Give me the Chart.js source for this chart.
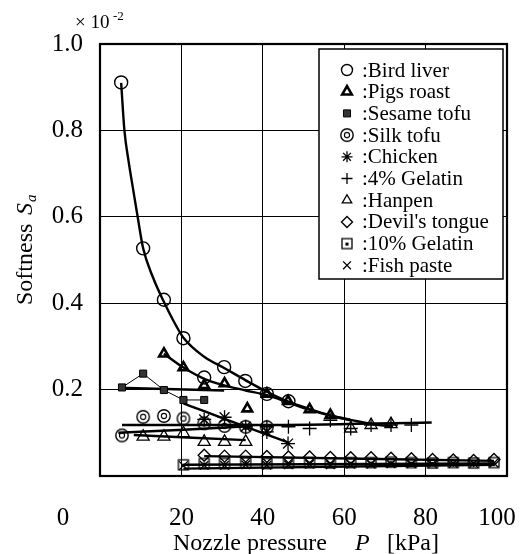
<!DOCTYPE html>
<html>
<head>
<meta charset="utf-8">
<script src="https://cdn.jsdelivr.net/npm/chart.js@4.4.1/dist/chart.umd.min.js"></script>
<style>
  body { margin: 0; background: #fff; }
  #wrap { width: 530px; height: 554px; }
</style>
</head>
<body>
<div id="wrap"><canvas id="chart" width="530" height="554"></canvas></div>
<script>
// values (Softness Sa, x 10^-2)
const birdLiverX = [5.2, 10.6, 15.7, 20.5, 25.6, 30.5, 35.7, 41.0, 46.3];
const birdLiverY = [0.911, 0.527, 0.408, 0.319, 0.228, 0.252, 0.220, 0.190, 0.173];
const birdLiverFitX = [5.2, 6.0, 7.0, 8.2, 9.25, 10.6, 13.0, 15.6, 18.0, 20.5, 25.6, 30.5, 35.7, 41.0, 46.3, 51.5, 56.6, 62.0];
const birdLiverFitY = [0.91, 0.80, 0.73, 0.66, 0.60, 0.527, 0.46, 0.405, 0.36, 0.32, 0.276, 0.25, 0.222, 0.195, 0.172, 0.155, 0.14, 0.128];

const pigsRoastX = [15.7, 20.5, 25.6, 30.6, 36.2, 41.0, 46.2, 51.5, 56.6];
const pigsRoastY = [0.283, 0.251, 0.210, 0.214, 0.156, 0.190, 0.173, 0.154, 0.141];
const pigsRoastFitX = [15.7, 20.5, 25.6, 30.5, 35.8, 41.0, 46.3, 51.5, 56.6, 61.6, 66.6, 72.0];
const pigsRoastFitY = [0.283, 0.251, 0.225, 0.210, 0.198, 0.187, 0.170, 0.153, 0.140, 0.130, 0.121, 0.114];

const sesameTofuX = [5.4, 10.6, 15.7, 20.5, 25.6];
const sesameTofuY = [0.205, 0.237, 0.199, 0.176, 0.176];
const sesameTofuFitX = [5.4, 30.5];
const sesameTofuFitY = [0.204, 0.198];

const silkTofuX = [5.4, 10.6, 15.7, 20.5, 25.6, 30.6, 35.8, 41.0];
const silkTofuY = [0.094, 0.137, 0.139, 0.133, 0.122, 0.116, 0.114, 0.113];
const silkTofuFitX = [4.5, 20.5, 36.0];
const silkTofuFitY = [0.100, 0.107, 0.115];

const chickenX = [25.6, 30.6, 35.8, 41.0, 46.2];
const chickenY = [0.131, 0.136, 0.114, 0.102, 0.075];
const chickenFitX = [20.5, 25.6, 30.6, 35.8, 41.0, 46.3];
const chickenFitY = [0.168, 0.150, 0.132, 0.114, 0.096, 0.077];

const gelatin4X = [41.0, 46.3, 51.5, 56.6, 61.6, 66.6, 71.5, 76.5];
const gelatin4Y = [0.114, 0.114, 0.110, 0.129, 0.110, 0.118, 0.118, 0.118];
const gelatin4FitX = [5.4, 40.0, 81.5];
const gelatin4FitY = [0.118, 0.118, 0.124];

const hanpenX = [10.6, 15.7, 20.5, 25.6, 30.6, 35.8, 61.6, 66.6, 71.5];
const hanpenY = [0.091, 0.091, 0.099, 0.079, 0.079, 0.079, 0.110, 0.118, 0.120];
const hanpenFitX = [8.3, 35.8];
const hanpenFitY = [0.095, 0.083];

const devilsTongueX = [25.6, 30.6, 35.8, 41.0, 46.3, 51.5, 56.6, 61.6, 66.6, 71.5, 76.5, 81.7, 86.8, 91.8, 96.8];
const devilsTongueY = [0.048, 0.046, 0.046, 0.045, 0.044, 0.044, 0.043, 0.042, 0.042, 0.041, 0.040, 0.038, 0.037, 0.036, 0.038];
const devilsTongueFitX = [25.6, 96.8];
const devilsTongueFitY = [0.046, 0.035];

const gelatin10X = [20.5, 25.6, 30.6, 35.8, 41.0, 46.3, 51.5, 56.6, 61.6, 66.6, 71.5, 76.5, 81.7, 86.8, 91.8, 96.8];
const gelatin10Y = [0.026, 0.029, 0.029, 0.030, 0.029, 0.030, 0.031, 0.030, 0.031, 0.031, 0.032, 0.031, 0.030, 0.031, 0.030, 0.031];
const gelatin10FitX = [20.5, 96.8];
const gelatin10FitY = [0.026, 0.029];

const fishPasteX = [20.5, 25.6, 30.6, 35.8, 41.0, 46.3, 51.5, 56.6, 61.6, 66.6, 71.5, 76.5, 81.7, 86.8, 91.8, 96.8];
const fishPasteY = [0.024, 0.025, 0.025, 0.026, 0.025, 0.026, 0.027, 0.026, 0.027, 0.027, 0.028, 0.028, 0.028, 0.029, 0.029, 0.030];
const fishPasteFitX = [20.5, 96.8];
const fishPasteFitY = [0.017, 0.026];

const xTicks = [20, 40, 60, 80, 100];
const yTicks = [0.2, 0.4, 0.6, 0.8, 1.0];

const SERIF = '"Liberation Serif", "Times New Roman", serif';

// small canvases for the two symbols Chart.js doesn't have
function sym(size, draw) {
    const c = document.createElement('canvas');
    c.width = size; c.height = size;
    const g = c.getContext('2d');
    g.strokeStyle = '#000'; g.fillStyle = '#000';
    draw(g, size / 2);
    return c;
}
const silkSym = sym(16, (g, m) => {
    g.lineWidth = 1.4;
    g.beginPath(); g.arc(m, m, 6.2, 0, Math.PI * 2); g.stroke();
    g.lineWidth = 1.1;
    g.beginPath(); g.arc(m, m, 2.6, 0, Math.PI * 2); g.stroke();
});
const gel10Sym = sym(14, (g, m) => {
    g.lineWidth = 1.3;
    g.strokeRect(m - 5, m - 5, 10, 10);
    g.fillRect(m - 1.5, m - 1, 3, 3);
});

const pts = (xs, ys) => xs.map((x, i) => ({ x: x, y: ys[i] }));

const series = [
    { label: 'Bird liver',     x: birdLiverX,    y: birdLiverY,    fx: birdLiverFitX,    fy: birdLiverFitY,    style: 'circle',   r: 6.5, bw: 1.4, bg: 'rgba(0,0,0,0)' },
    { label: 'Pigs roast',     x: pigsRoastX,    y: pigsRoastY,    fx: pigsRoastFitX,    fy: pigsRoastFitY,    style: 'triangle', r: 5.5, bw: 2.6, bg: 'rgba(0,0,0,0)' },
    { label: 'Sesame tofu',    x: sesameTofuX,   y: sesameTofuY,   fx: sesameTofuFitX,   fy: sesameTofuFitY,   style: 'rect',     r: 5,   bw: 1,   bg: '#333', thin: true },
    { label: 'Silk tofu',      x: silkTofuX,     y: silkTofuY,     fx: silkTofuFitX,     fy: silkTofuFitY,     style: silkSym,    r: 6,   bw: 1,   bg: 'rgba(0,0,0,0)' },
    { label: 'Chicken',        x: chickenX,      y: chickenY,      fx: chickenFitX,      fy: chickenFitY,      style: 'star',     r: 7,   bw: 1.3, bg: 'rgba(0,0,0,0)' },
    { label: '4% Gelatin',     x: gelatin4X,     y: gelatin4Y,     fx: gelatin4FitX,     fy: gelatin4FitY,     style: 'cross',    r: 7,   bw: 1.3, bg: 'rgba(0,0,0,0)' },
    { label: 'Hanpen',         x: hanpenX,       y: hanpenY,       fx: hanpenFitX,       fy: hanpenFitY,       style: 'triangle', r: 7,   bw: 1.3, bg: 'rgba(0,0,0,0)' },
    { label: "Devil's tongue", x: devilsTongueX, y: devilsTongueY, fx: devilsTongueFitX, fy: devilsTongueFitY, style: 'rectRot',  r: 6,   bw: 1.4, bg: 'rgba(0,0,0,0)' },
    { label: '10% Gelatin',    x: gelatin10X,    y: gelatin10Y,    fx: gelatin10FitX,    fy: gelatin10FitY,    style: gel10Sym,   r: 6,   bw: 1,   bg: 'rgba(0,0,0,0)' },
    { label: 'Fish paste',     x: fishPasteX,    y: fishPasteY,    fx: fishPasteFitX,    fy: fishPasteFitY,    style: 'crossRot', r: 6,   bw: 1.3, bg: 'rgba(0,0,0,0)' }
];

const datasets = [];
series.forEach(s => {
    datasets.push({
        label: s.label,
        data: pts(s.x, s.y),
        showLine: !!s.thin,
        borderColor: '#000',
        borderWidth: s.thin ? 1 : 0,
        backgroundColor: s.bg,
        pointStyle: s.style,
        pointRadius: s.r,
        pointBorderWidth: s.bw,
        pointBorderColor: '#000',
        pointBackgroundColor: s.bg,
        order: 1
    });
    datasets.push({
        label: s.label + ' fit',
        data: pts(s.fx, s.fy),
        showLine: true,
        borderColor: '#000',
        borderWidth: 2.4,
        pointRadius: 0,
        tension: 0.4,
        cubicInterpolationMode: 'monotone',
        order: 2
    });
});

const decor = {
    id: 'decor',
    afterDatasetsDraw(chart) {
        const ctx = chart.ctx;
        // legend box inside the plot
        const lx = 319, ly = 49, lw = 184, lh = 230;
        ctx.save();
        ctx.fillStyle = '#fff';
        ctx.fillRect(lx, ly, lw, lh);
        ctx.strokeStyle = '#000';
        ctx.lineWidth = 1.5;
        ctx.strokeRect(lx, ly, lw, lh);
        ctx.font = '21px ' + SERIF;
        ctx.textBaseline = 'middle';
        ctx.textAlign = 'left';
        series.forEach((s, i) => {
            const y = 70 + i * 21.7;
            ctx.strokeStyle = '#000';
            ctx.fillStyle = s.bg;
            ctx.lineWidth = s.bw;
            Chart.helpers.drawPoint(ctx, { pointStyle: s.style, radius: Math.min(s.r, 5.5), rotation: 0, borderWidth: s.bw }, 347, y);
            ctx.fillStyle = '#000';
            ctx.fillText(':' + s.label, 362, y + 1);
        });
        ctx.restore();
    },
    afterDraw(chart) {
        const ctx = chart.ctx;
        const a = chart.chartArea;
        ctx.save();
        ctx.strokeStyle = '#000';
        ctx.lineWidth = 2.2;
        ctx.strokeRect(a.left, a.top, a.right - a.left, a.bottom - a.top);

        ctx.fillStyle = '#000';
        ctx.textBaseline = 'alphabetic';
        // origin label and the last x label, both set off from their gridlines in the original
        ctx.font = '25px ' + SERIF;
        ctx.textAlign = 'center';
        ctx.fillText('0', 63, 525);
        ctx.fillText('100', 497, 525);

        // exponent marker
        ctx.textAlign = 'left';
        ctx.font = '19px ' + SERIF;
        ctx.fillText('\u00d7 10', 75, 28);
        ctx.font = '13px ' + SERIF;
        ctx.fillText('-2', 113, 20);

        // x title
        ctx.font = '24px ' + SERIF;
        ctx.fillText('Nozzle pressure', 173, 550);
        ctx.font = 'italic 24px ' + SERIF;
        ctx.fillText('P', 355, 550);
        ctx.font = '24px ' + SERIF;
        ctx.fillText('[kPa]', 387, 550);

        // y title
        ctx.translate(32, 305);
        ctx.rotate(-Math.PI / 2);
        ctx.font = '24px ' + SERIF;
        ctx.fillText('Softness', 0, 0);
        ctx.font = 'italic 24px ' + SERIF;
        ctx.fillText('S', 90, 0);
        ctx.font = 'italic 15px ' + SERIF;
        ctx.fillText('a', 103, 4);
        ctx.restore();
    }
};

new Chart(document.getElementById('chart'), {
    type: 'scatter',
    data: { datasets: datasets },
    options: {
        responsive: false,
        animation: false,
        devicePixelRatio: 1,
        layout: { padding: { top: 44, right: 23, left: 0, bottom: 0 } },
        plugins: { legend: { display: false }, tooltip: { enabled: false } },
        scales: {
            x: {
                type: 'linear', min: 0, max: 100,
                afterFit: s => { s.height = 78; s.paddingLeft = 0; s.paddingRight = 0; },
                afterBuildTicks: s => { s.ticks = [0].concat(xTicks).map(v => ({ value: v })); },
                grid: { color: '#000', lineWidth: 1, drawTicks: false },
                border: { display: false },
                ticks: {
                    padding: 27, color: '#000',
                    font: { family: SERIF, size: 25 },
                    callback: v => (v === 0 || v === 100) ? '' : v
                }
            },
            y: {
                min: 0, max: 1.0,
                afterFit: s => { s.width = 100; s.paddingTop = 0; s.paddingBottom = 0; },
                afterBuildTicks: s => { s.ticks = [0].concat(yTicks).map(v => ({ value: v })); },
                grid: { color: '#000', lineWidth: 1, drawTicks: false },
                border: { display: false },
                ticks: {
                    padding: 17, color: '#000',
                    font: { family: SERIF, size: 25 },
                    callback: v => v === 0 ? '' : v.toFixed(1)
                }
            }
        }
    },
    plugins: [decor]
});
</script>
</body>
</html>
